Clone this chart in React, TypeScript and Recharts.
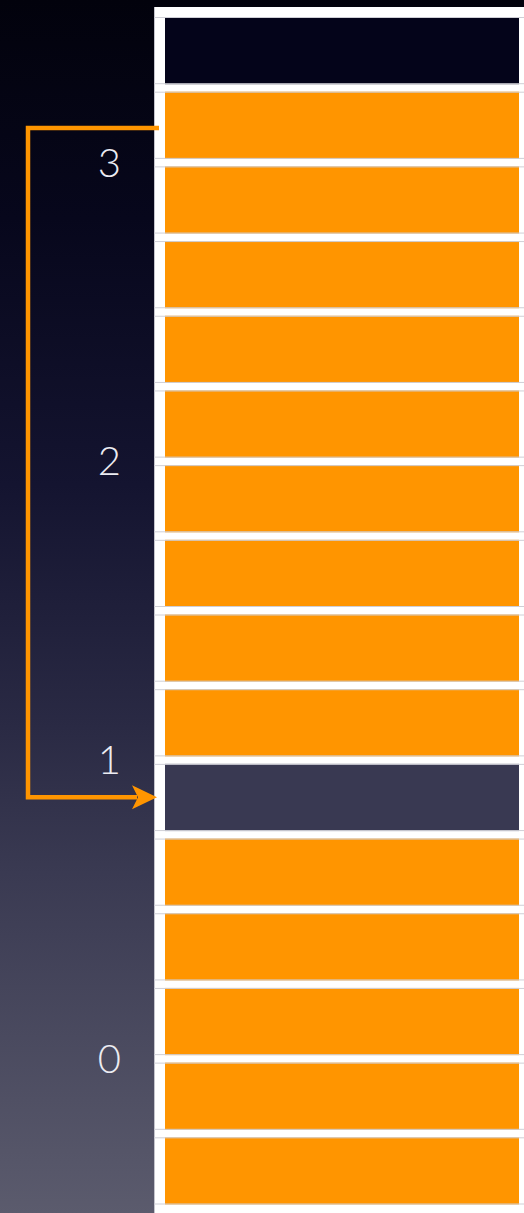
import React from 'react';
import { Bar, BarChart, Cell, ReferenceLine, XAxis, YAxis } from 'recharts';

// memory slots, top to bottom (one level = four slots)
const slots = ['s0', 's1', 's2', 's3', 's4', 's5', 's6', 's7', 's8', 's9', 's10', 's11', 's12', 's13', 's14', 's15'];
const slotHigh = [3.5, 3.25, 3.0, 2.75, 2.5, 2.25, 2.0, 1.75, 1.5, 1.25, 1.0, 0.75, 0.5, 0.25, 0.0, -0.25];
const slotLow = [3.25, 3.0, 2.75, 2.5, 2.25, 2.0, 1.75, 1.5, 1.25, 1.0, 0.75, 0.5, 0.25, 0.0, -0.25, -0.5];
const slotState = ['empty', 'used', 'used', 'used', 'used', 'used', 'used', 'used', 'used', 'used', 'free', 'used', 'used', 'used', 'used', 'used'];

// left axis
const levelTicks = [0, 1, 2, 3];
const levelDomain: [number, number] = [-0.5, 3.5];

// pointer arrow: from slot 1 to slot 10
const arrowFrom = 1;
const arrowTo = 10;

const stateColors: Record<string, string> = {
  used: '#ff9500',
  free: '#393952',
  empty: '#04041a',
};

const data = slots.map((slot, i) => ({
  slot,
  column: 0,
  span: [slotLow[i], slotHigh[i]],
  state: slotState[i],
}));

const mid = (i: number) => (slotLow[i] + slotHigh[i]) / 2;

const SlotShape = (props: any) => {
  const { x, y, width, height, fill } = props;
  const top = y + 4;
  const h = height - 7.5;
  return (
    <g>
      <rect x={x} y={top} width={width} height={h} fill={fill} />
      <line x1={x - 11} x2={x + width + 5} y1={top + 0.5} y2={top + 0.5} stroke="#cfcfd6" strokeWidth={1} />
      <line x1={x - 11} x2={x + width + 5} y1={top + h - 0.5} y2={top + h - 0.5} stroke="#cfcfd6" strokeWidth={1} />
    </g>
  );
};

const ArrowShape = (props: any) => {
  const { x1, y1, x2, y2 } = props;
  const left = x1 - 137;
  const tip = x2 - 8;
  return (
    <g>
      <path
        d={`M${x1 - 6},${y1 + 3} L${left},${y1 + 3} L${left},${y2} L${tip - 20},${y2}`}
        fill="none"
        stroke="#ff9500"
        strokeWidth={4.5}
      />
      <path d={`M${tip},${y2} L${tip - 25},${y2 - 12} L${tip - 19},${y2} L${tip - 25},${y2 + 12} Z`} fill="#ff9500" />
    </g>
  );
};

const App: React.FC = () => {
  return (
    <div
      style={{
        position: 'absolute',
        left: 0,
        top: 0,
        width: 524,
        height: 1213,
        background: 'linear-gradient(180deg, #02020c 0%, #07071c 18%, #141430 40%, #2a2a44 60%, #3a3a52 72%, #5b5b6d 100%)',
        overflow: 'hidden',
      }}
    >
      <div
        style={{
          position: 'absolute',
          left: 154,
          top: 7,
          width: 370,
          height: 1206,
          background: '#ffffff',
          borderLeft: '1px solid #c4c4cc',
          boxSizing: 'border-box',
        }}
      />
      <div style={{ position: 'absolute', left: 0, top: 0 }}>
        <BarChart width={524} height={1213} data={data} margin={{ top: 13, right: 5, bottom: 5, left: 0 }}>
          <XAxis type="number" dataKey="column" domain={[-0.5, 0.5]} ticks={[-0.5, 0.5]} hide />
          <YAxis
            type="number"
            domain={levelDomain}
            ticks={levelTicks}
            allowDataOverflow
            width={165}
            axisLine={false}
            tickLine={false}
            tickSize={0}
            tickMargin={44}
            tick={{ fill: '#ececf2', fontSize: 40, fontFamily: 'Lato', fontWeight: 300 }}
          />
          <Bar dataKey="span" barSize={354} shape={SlotShape} isAnimationActive={false}>
            {data.map(d => (
              <Cell key={d.slot} fill={stateColors[d.state]} />
            ))}
          </Bar>
          <ReferenceLine
            segment={[
              { x: -0.5, y: mid(arrowFrom) },
              { x: -0.5, y: mid(arrowTo) },
            ]}
            ifOverflow="visible"
            shape={ArrowShape}
          />
        </BarChart>
      </div>
    </div>
  );
};

export default App;
